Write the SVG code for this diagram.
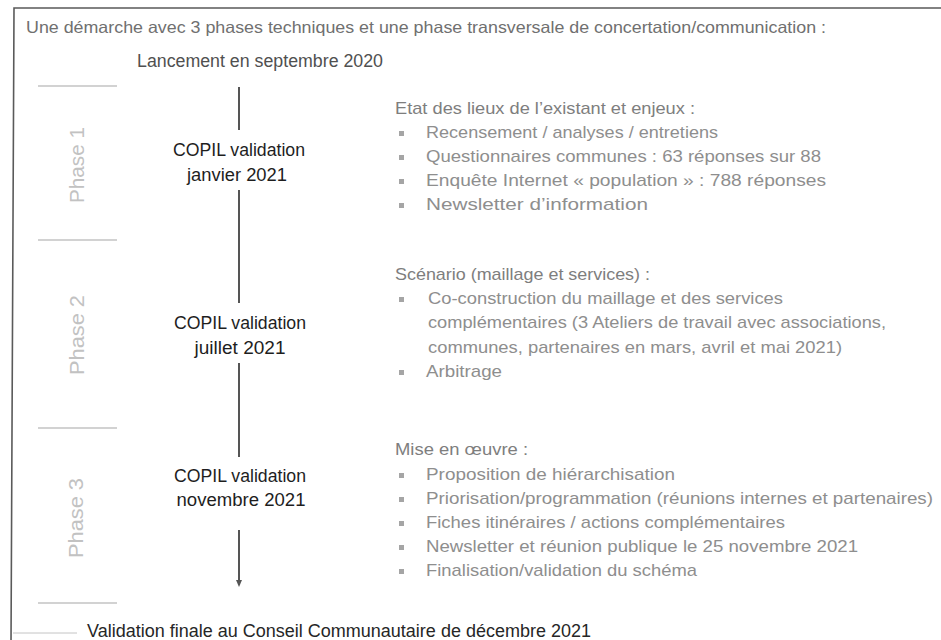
<svg xmlns="http://www.w3.org/2000/svg" width="941" height="640" viewBox="0 0 941 640">
<style>
text{font-family:"Liberation Sans",Arial,sans-serif}
.title{font-size:16.5px;fill:#707070}
.launch{font-size:17.5px;fill:#505050}
.phase{font-size:20px;fill:#c2c2c2;text-anchor:middle}
.copil{font-size:17.5px;fill:#1e1e1e;text-anchor:middle}
.head{font-size:17px;fill:#7e7e7e}
.item{font-size:17px;fill:#8e8e8e}
.final{font-size:17.5px;fill:#262626}
.sep{stroke:#d2d2d2;stroke-width:2}
.axis{stroke:#555;stroke-width:2;fill:none}
.bul{fill:#a5a5a5}
</style>
<defs>
<marker id="arr" markerWidth="8" markerHeight="8" refX="2" refY="4" orient="auto" markerUnits="userSpaceOnUse">
<path d="M0,1 L7,4 L0,7 Z" fill="#555"/>
</marker>
</defs>
<rect x="0" y="0" width="941" height="640" fill="#fff"/>
<path d="M11,645 L14,8 L945,8" fill="none" stroke="#5a5a5a" stroke-width="1.6"/>
<line x1="13" y1="633" x2="77" y2="633" stroke="#c4c4c4" stroke-width="1"/>

<text class="title" x="26" y="33" textLength="800" lengthAdjust="spacingAndGlyphs">Une démarche avec 3 phases techniques et une phase transversale de concertation/communication :</text>
<text class="launch" x="137" y="67" textLength="246" lengthAdjust="spacingAndGlyphs">Lancement en septembre 2020</text>

<g id="separators">
<line class="sep" x1="38" y1="86" x2="117" y2="86"/>
<line class="sep" x1="38" y1="240" x2="117" y2="240"/>
<line class="sep" x1="38" y1="428" x2="117" y2="428"/>
<line class="sep" x1="38" y1="603" x2="117" y2="603"/>
</g>

<g id="phase1-label"><text class="phase" transform="translate(84,165) rotate(-90)" textLength="76" lengthAdjust="spacingAndGlyphs">Phase 1</text></g>
<g id="phase2-label"><text class="phase" transform="translate(84,335) rotate(-90)" textLength="80" lengthAdjust="spacingAndGlyphs">Phase 2</text></g>
<g id="phase3-label"><text class="phase" transform="translate(83,518) rotate(-90)" textLength="80" lengthAdjust="spacingAndGlyphs">Phase 3</text></g>

<g id="connectors">
<line class="axis" x1="239" y1="87" x2="239" y2="130"/>
<line class="axis" x1="239" y1="190" x2="239" y2="303"/>
<line class="axis" x1="239" y1="363" x2="239" y2="457"/>
<line class="axis" x1="239" y1="530" x2="239" y2="582" marker-end="url(#arr)"/>
</g>

<g id="copil1">
<text class="copil" x="239" y="156" textLength="132" lengthAdjust="spacingAndGlyphs">COPIL validation</text>
<text class="copil" x="237" y="181" textLength="100" lengthAdjust="spacingAndGlyphs">janvier 2021</text>
</g>
<g id="copil2">
<text class="copil" x="240" y="329" textLength="132" lengthAdjust="spacingAndGlyphs">COPIL validation</text>
<text class="copil" x="240" y="354" textLength="91" lengthAdjust="spacingAndGlyphs">juillet 2021</text>
</g>
<g id="copil3">
<text class="copil" x="240" y="482" textLength="132" lengthAdjust="spacingAndGlyphs">COPIL validation</text>
<text class="copil" x="241" y="506" textLength="129" lengthAdjust="spacingAndGlyphs">novembre 2021</text>
</g>

<g id="phase1-content">
<text class="head" x="395" y="114" textLength="300" lengthAdjust="spacingAndGlyphs">Etat des lieux de l’existant et enjeux :</text>
<rect class="bul" x="399" y="131" width="5" height="5"/>
<text class="item" x="426" y="138" textLength="292" lengthAdjust="spacingAndGlyphs">Recensement / analyses / entretiens</text>
<rect class="bul" x="399" y="155" width="5" height="5"/>
<text class="item" x="426" y="162" textLength="395" lengthAdjust="spacingAndGlyphs">Questionnaires communes : 63 réponses sur 88</text>
<rect class="bul" x="399" y="179" width="5" height="5"/>
<text class="item" x="426" y="186" textLength="400" lengthAdjust="spacingAndGlyphs">Enquête Internet « population » : 788 réponses</text>
<rect class="bul" x="399" y="203" width="5" height="5"/>
<text class="item" x="426" y="210" textLength="222" lengthAdjust="spacingAndGlyphs">Newsletter d’information</text>
</g>

<g id="phase2-content">
<text class="head" x="395" y="280" textLength="255" lengthAdjust="spacingAndGlyphs">Scénario (maillage et services) :</text>
<rect class="bul" x="399" y="297" width="5" height="5"/>
<text class="item" x="428" y="304" textLength="355" lengthAdjust="spacingAndGlyphs">Co-construction du maillage et des services</text>
<text class="item" x="428" y="328" textLength="458" lengthAdjust="spacingAndGlyphs">complémentaires (3 Ateliers de travail avec associations,</text>
<text class="item" x="428" y="353" textLength="414" lengthAdjust="spacingAndGlyphs">communes, partenaires en mars, avril et mai 2021)</text>
<rect class="bul" x="399" y="370" width="5" height="5"/>
<text class="item" x="426" y="377" textLength="76" lengthAdjust="spacingAndGlyphs">Arbitrage</text>
</g>

<g id="phase3-content">
<text class="head" x="395" y="455" textLength="133" lengthAdjust="spacingAndGlyphs">Mise en œuvre :</text>
<rect class="bul" x="399" y="473" width="5" height="5"/>
<text class="item" x="426" y="480" textLength="249" lengthAdjust="spacingAndGlyphs">Proposition de hiérarchisation</text>
<rect class="bul" x="399" y="497" width="5" height="5"/>
<text class="item" x="426" y="504" textLength="507" lengthAdjust="spacingAndGlyphs">Priorisation/programmation (réunions internes et partenaires)</text>
<rect class="bul" x="399" y="521" width="5" height="5"/>
<text class="item" x="426" y="528" textLength="359" lengthAdjust="spacingAndGlyphs">Fiches itinéraires / actions complémentaires</text>
<rect class="bul" x="399" y="545" width="5" height="5"/>
<text class="item" x="426" y="552" textLength="432" lengthAdjust="spacingAndGlyphs">Newsletter et réunion publique le 25 novembre 2021</text>
<rect class="bul" x="399" y="569" width="5" height="5"/>
<text class="item" x="426" y="576" textLength="271" lengthAdjust="spacingAndGlyphs">Finalisation/validation du schéma</text>
</g>

<text class="final" x="87" y="637" textLength="504" lengthAdjust="spacingAndGlyphs">Validation finale au Conseil Communautaire de décembre 2021</text>
</svg>
